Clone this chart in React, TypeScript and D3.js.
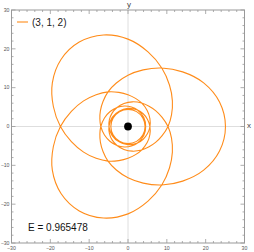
import React from 'react';
import * as d3 from 'd3';

// half of one radial period, apoapsis (0°) -> periapsis (480°)
const halfPhi = [0, 15, 30, 45, 60, 75, 90, 105, 120, 135, 150, 165, 180, 200, 220, 240, 260, 280, 300, 330, 360, 390, 420, 450, 480];
const halfR = [25.1, 24.4, 22.5, 19.9, 17.4, 15.1, 13.2, 11.6, 10.3, 9.1, 8.2, 7.5, 7.0, 6.45, 6.0, 5.65, 5.35, 5.1, 4.9, 4.7, 4.55, 4.47, 4.42, 4.4, 4.4];
// apoapsis direction of each leaf (degrees)
const leafAngles = [0, 240, 480];

const majorTicks = [-30, -20, -10, 0, 10, 20, 30];
const minorTicks = d3.range(-30, 31, 2);
const legendLabel = '(3, 1, 2)';
const energyLabel = 'E = 0.965478';
const holeRadius = 1;

const W = 254;
const H = 252;
const orange = '#FF8C1A';
const frameColor = '#999';
const font = 'Liberation Sans, Arial, sans-serif';

const fmt = (v: number) => (v < 0 ? '\u2212' + Math.abs(v) : String(v));

const App: React.FC = () => {
  const sx = d3.scaleLinear().domain([-30, 30]).range([11.5, 244.5]);
  const sy = d3.scaleLinear().domain([-30, 30]).range([243, 10]);

  // one period: in to periapsis, then mirrored back out
  const last = halfPhi[halfPhi.length - 1];
  const period: [number, number][] = halfPhi.map((p, i) => [p, halfR[i]]);
  for (let i = halfPhi.length - 2; i >= 0; i--) period.push([2 * last - halfPhi[i], halfR[i]]);

  const pts: [number, number][] = [];
  leafAngles.forEach((a) => {
    period.slice(0, -1).forEach(([p, r]) => {
      const t = ((a + p) * Math.PI) / 180;
      pts.push([r * Math.cos(t), r * Math.sin(t)]);
    });
  });

  const line = d3
    .line<[number, number]>()
    .x((d) => sx(d[0]))
    .y((d) => sy(d[1]))
    .curve(d3.curveCatmullRomClosed.alpha(0.5));

  const x0 = sx(-30), x1 = sx(30), y0 = sy(30), y1 = sy(-30);

  return (
    <svg width={W} height={H} style={{ position: 'fixed', left: 0, top: 0, background: '#fff' }} fontFamily={font}>
      {/* axes through origin */}
      <line x1={x0} x2={x1} y1={sy(0)} y2={sy(0)} stroke="#dedede" strokeWidth={1} />
      <line x1={sx(0)} x2={sx(0)} y1={y0} y2={y1} stroke="#dedede" strokeWidth={1} />

      <path d={line(pts) ?? ''} fill="none" stroke={orange} strokeWidth={1.1} />
      <circle cx={sx(0)} cy={sy(0)} r={sx(holeRadius) - sx(0)} fill="#000" />

      {/* frame */}
      <rect x={x0} y={y0} width={x1 - x0} height={y1 - y0} fill="none" stroke={frameColor} strokeWidth={1} />
      {minorTicks.map((v) => {
        const len = majorTicks.includes(v) ? 4 : 2;
        return (
          <g key={'t' + v} stroke={frameColor} strokeWidth={0.8}>
            <line x1={sx(v)} x2={sx(v)} y1={y1} y2={y1 - len} />
            <line x1={sx(v)} x2={sx(v)} y1={y0} y2={y0 + len} />
            <line x1={x0} x2={x0 + len} y1={sy(v)} y2={sy(v)} />
            <line x1={x1} x2={x1 - len} y1={sy(v)} y2={sy(v)} />
          </g>
        );
      })}
      {majorTicks.map((v) => (
        <g key={'l' + v} fontSize={5.2} fill="#555">
          <text x={sx(v)} y={y1 + 6.5} textAnchor="middle">{fmt(v)}</text>
          <text x={x0 - 2} y={sy(v) + 1.8} textAnchor="end">{fmt(v)}</text>
        </g>
      ))}

      {/* axis labels */}
      <text x={sx(0) + 1} y={7} fontSize={8} fill="#444" textAnchor="middle">y</text>
      <text x={249} y={sy(0) + 1.5} fontSize={8} fill="#444" textAnchor="middle">x</text>

      {/* legend */}
      <line x1={17} x2={28} y1={22} y2={22} stroke={orange} strokeWidth={1.1} />
      <text x={32} y={25.5} fontSize={10} fill="#222">{legendLabel}</text>

      <text x={28} y={231} fontSize={10} fill="#111">{energyLabel}</text>
    </svg>
  );
};

export default App;
